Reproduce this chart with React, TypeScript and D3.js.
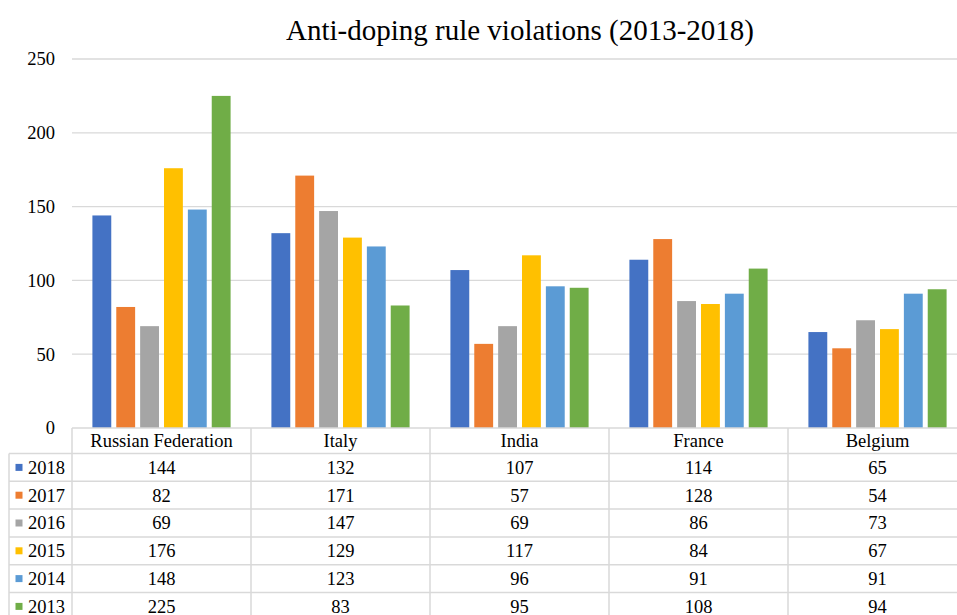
import React from 'react';
import * as d3 from 'd3';

const title = 'Anti-doping rule violations (2013-2018)';
const categories = ['Russian Federation', 'Italy', 'India', 'France', 'Belgium'];
const years = ['2018', '2017', '2016', '2015', '2014', '2013'];
const v2018 = [144, 132, 107, 114, 65];
const v2017 = [82, 171, 57, 128, 54];
const v2016 = [69, 147, 69, 86, 73];
const v2015 = [176, 129, 117, 84, 67];
const v2014 = [148, 123, 96, 91, 91];
const v2013 = [225, 83, 95, 108, 94];
const yTicks = [0, 50, 100, 150, 200, 250];
const colors = ['#4472C4', '#ED7D31', '#A5A5A5', '#FFC000', '#5B9BD5', '#70AD47'];

const series = [v2018, v2017, v2016, v2015, v2014, v2013];

export default function App() {
  const W = 957, H = 615;
  const left = 72, right = 967, top = 59, bottom = 428;
  const font = "'Liberation Serif', 'Times New Roman', serif";
  const grid = '#d9d9d9';
  const fs = 18.5;

  const x0 = d3.scaleBand<string>().domain(categories).range([left, right]).paddingInner(0.2).paddingOuter(0.1);
  const x1 = d3.scaleBand<string>().domain(years).range([0, x0.bandwidth()]).paddingInner(0.21).paddingOuter(0.105);
  const y = d3.scaleLinear().domain([0, 250]).range([bottom, top]);

  const step = x0.step();
  const colEdge = (c: string) => (x0(c) as number) - (step - x0.bandwidth()) / 2;
  const rowH = 27.8;
  const headerH = 25.5;
  const legendLeft = 9;
  const tableTop = bottom;
  const rowTop = (i: number) => tableTop + headerH + i * rowH;
  const ts = { fontFamily: font, fontSize: fs };

  return (
    <svg width={W} height={H} style={{ position: 'absolute', left: 0, top: 0, background: '#fff' }}>
      <rect x={0} y={0} width={W} height={H} fill="#fff" />
      <text x={520} y={40} textAnchor="middle" style={{ fontFamily: font, fontSize: 29 }} fill="#000">{title}</text>

      {yTicks.map(t => (
        <g key={t}>
          {t > 0 && <line x1={left} x2={right} y1={y(t)} y2={y(t)} stroke={grid} strokeWidth={1.3} />}
          <text x={55} y={y(t)} dy="0.35em" textAnchor="end" style={ts} fill="#000">{t}</text>
        </g>
      ))}

      {categories.map((c, ci) => (
        <g key={c} transform={`translate(${x0(c)},0)`}>
          {years.map((yr, si) => (
            <rect key={yr} x={x1(yr)} y={y(series[si][ci])} width={x1.bandwidth()}
              height={y(0) - y(series[si][ci])} fill={colors[si]} />
          ))}
        </g>
      ))}

      {/* data table */}
      <g stroke={grid} strokeWidth={1.5} fill="none">
        <line x1={left} x2={right} y1={tableTop} y2={tableTop} />
        {years.map((yr, i) => (
          <line key={yr} x1={legendLeft} x2={right} y1={rowTop(i)} y2={rowTop(i)} />
        ))}
        <line x1={legendLeft} x2={right} y1={rowTop(6)} y2={rowTop(6)} />
        <line x1={legendLeft} x2={legendLeft} y1={rowTop(0)} y2={rowTop(6)} />
        {categories.map(c => (
          <line key={c} x1={colEdge(c)} x2={colEdge(c)} y1={tableTop} y2={rowTop(6)} />
        ))}
        <line x1={right} x2={right} y1={tableTop} y2={rowTop(6)} />
      </g>

      {categories.map(c => (
        <text key={c} x={colEdge(c) + step / 2} y={tableTop + headerH / 2} dy="0.35em"
          textAnchor="middle" style={ts} fill="#000">{c}</text>
      ))}

      {years.map((yr, si) => (
        <g key={yr}>
          <rect x={15.5} y={rowTop(si) + rowH / 2 - 3.5} width={7} height={7} fill={colors[si]} />
          <text x={28} y={rowTop(si) + rowH / 2} dy="0.35em" style={ts} fill="#000">{yr}</text>
          {categories.map((c, ci) => (
            <text key={c} x={colEdge(c) + step / 2} y={rowTop(si) + rowH / 2} dy="0.35em"
              textAnchor="middle" style={ts} fill="#000">{series[si][ci]}</text>
          ))}
        </g>
      ))}
    </svg>
  );
}
